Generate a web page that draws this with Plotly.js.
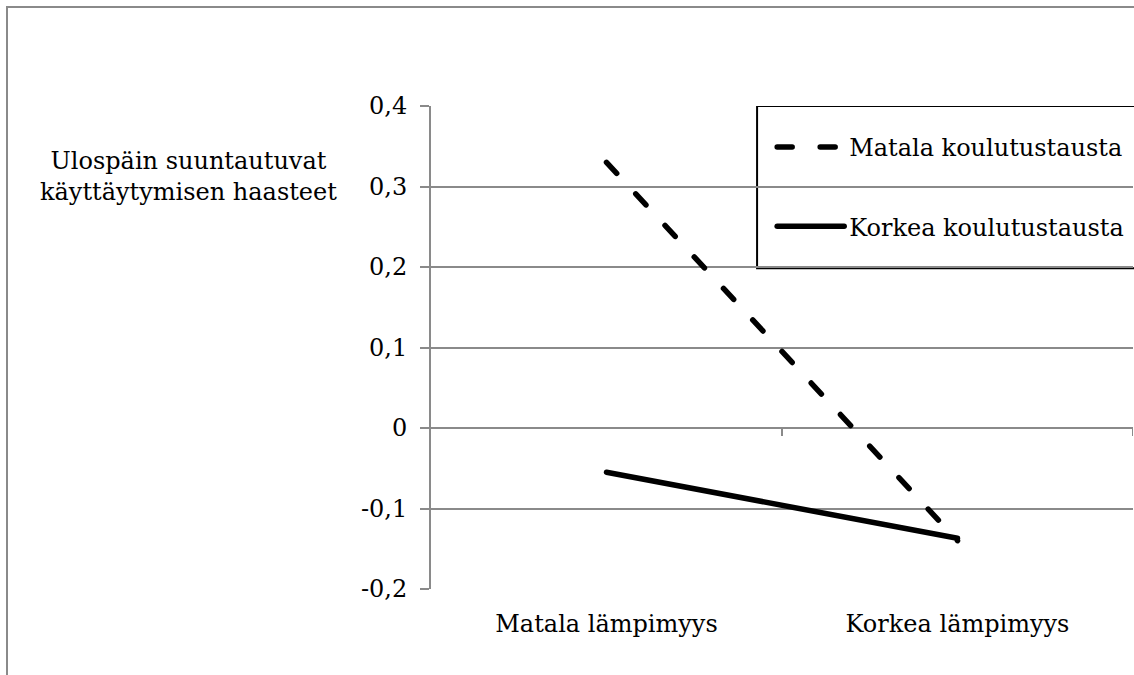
<!DOCTYPE html>
<html>
<head>
<meta charset="utf-8">
<script src="https://cdn.plot.ly/plotly-3.0.1.min.js"></script>
<style>
  html, body { margin: 0; padding: 0; background: #fff; }
  #wrap { position: relative; width: 1134px; height: 675px; }
  #chart { width: 1134px; height: 675px; }
  #frame { position: absolute; left: 6px; top: 6px; width: 1130px; height: 671px;
           border-left: 2px solid #8a8a8a; border-top: 2px solid #8a8a8a;
           box-sizing: border-box; pointer-events: none; }
  #chart path.js-line { stroke-linecap: round; stroke-linejoin: round; }
</style>
</head>
<body>
<div id="wrap">
  <div id="chart"></div>
  <div id="frame"></div>
</div>
<script>
// Data
const categories = ['Matala lämpimyys', 'Korkea lämpimyys'];
const seriesNames = ['Matala koulutustausta', 'Korkea koulutustausta'];
const matalaValues = [0.33, -0.14];
const korkeaValues = [-0.055, -0.137];
const yTickVals = [-0.2, -0.1, 0, 0.1, 0.2, 0.3, 0.4];
const yTickText = ['-0,2', '-0,1', '0', '0,1', '0,2', '0,3', '0,4'];
const yTitle = 'Ulospäin suuntautuvat<br>käyttäytymisen haasteet';

const FONT = 'DejaVu Serif, Liberation Serif, serif';
const FS = 24;
const GRID = '#8a8a8a';

const traces = [
  {
    x: categories, y: matalaValues, name: seriesNames[0],
    type: 'scatter', mode: 'lines',
    line: { color: '#000', width: 5.5, dash: '15px,28px' },
    legendgroup: 'a'
  },
  {
    x: categories, y: korkeaValues, name: seriesNames[1],
    type: 'scatter', mode: 'lines',
    line: { color: '#000', width: 5.5 },
    legendgroup: 'b'
  }
];

const layout = {
  width: 1134, height: 675,
  margin: { l: 431, r: 1, t: 106, b: 86, pad: 0 },
  paper_bgcolor: '#fff', plot_bgcolor: '#fff',
  font: { family: FONT, size: FS, color: '#000' },
  showlegend: true,
  legend: {
    x: 0.486, y: 0.961, xanchor: 'left', yanchor: 'top',
    bgcolor: 'rgba(0,0,0,0)', borderwidth: 0,
    traceorder: 'grouped', tracegroupgap: 45, itemwidth: 67,
    font: { family: FONT, size: FS, color: '#000' }
  },
  xaxis: {
    type: 'category', range: [-0.5, 1.5],
    showgrid: false, showline: false, zeroline: false,
    ticks: '', ticklabelstandoff: 18,
    tickfont: { family: FONT, size: FS, color: '#000' }
  },
  yaxis: {
    range: [-0.2, 0.4],
    tickmode: 'array', tickvals: yTickVals, ticktext: yTickText,
    showgrid: true, gridcolor: GRID, gridwidth: 2,
    zeroline: false,
    showline: true, linecolor: GRID, linewidth: 2,
    ticks: 'outside', ticklen: 9, tickwidth: 2, tickcolor: GRID,
    ticklabelstandoff: 8,
    tickfont: { family: FONT, size: FS, color: '#000' }
  },
  shapes: [
    // legend box
    { type: 'rect', xref: 'paper', yref: 'y', x0: 0.4645, x1: 1.02, y0: 0.1985, y1: 0.4,
      line: { color: '#000', width: 2 }, fillcolor: '#fff', layer: 'below' },
    // category boundary ticks on the zero line
    { type: 'line', xref: 'x', yref: 'y', x0: 0.5, x1: 0.5, ysizemode: 'pixel', yanchor: 0, y0: 0, y1: -8,
      line: { color: GRID, width: 2 } },
    { type: 'line', xref: 'x', yref: 'y', x0: 1.5, x1: 1.5, ysizemode: 'pixel', yanchor: 0, y0: 0, y1: -8,
      line: { color: GRID, width: 2 } }
  ],
  annotations: [
    { text: yTitle, xref: 'paper', yref: 'paper', x: -0.346, y: 0.855,
      xanchor: 'center', yanchor: 'middle', showarrow: false, align: 'center',
      font: { family: FONT, size: FS, color: '#000' } }
  ]
};

Plotly.newPlot('chart', traces, layout, { displayModeBar: false, staticPlot: true });
</script>
</body>
</html>
